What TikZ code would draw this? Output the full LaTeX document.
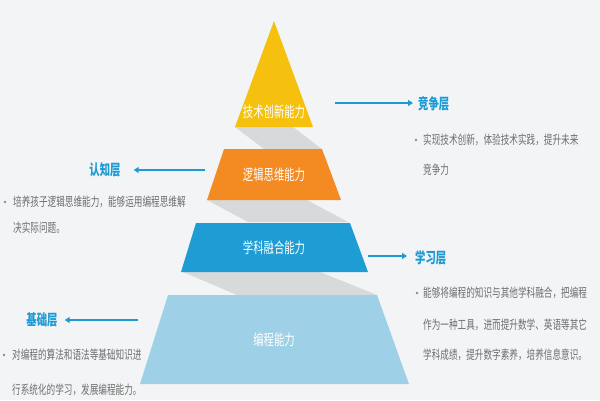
\documentclass[tikz,border=0pt]{standalone}
\usepackage{fontspec}
\usetikzlibrary{arrows.meta}
\newfontfamily\cjk[FakeStretch=0.69]{Noto Sans CJK SC}
\definecolor{bgc}{HTML}{F3F4F6}
\definecolor{yel}{HTML}{F5C10E}
\definecolor{ora}{HTML}{F48A22}
\definecolor{blu}{HTML}{1D9DD3}
\definecolor{lbl}{HTML}{9ED1E7}
\definecolor{shd}{HTML}{D8D9DB}
\definecolor{lab}{HTML}{1E9AD4}
\definecolor{bod}{HTML}{6E6E6E}
\tikzset{
  ptext/.style={text=white,font=\cjk\fontsize{15}{15}\selectfont,inner sep=0pt},
  ltext/.style={text=lab,font=\cjk\bfseries\fontsize{15}{15}\selectfont,inner sep=0pt},
  btext/.style={text=bod,font=\cjk\fontsize{12.5}{12.5}\selectfont,inner sep=0pt,anchor=west},
  conn/.style={draw=lab,line width=1.8pt,-{Triangle[length=5pt,width=6pt]}},
  dotc/.style={fill=bod!80}
}
\begin{document}
\begin{tikzpicture}[x=1pt,y=-1pt]
\fill[bgc] (0,0) rectangle (600,400);
\useasboundingbox (0,0) rectangle (600,400);
% shadows
\fill[shd] (235,127) -- (293,127) -- (322,149) -- (264,149) -- cycle;
\fill[shd] (207,200) -- (307,200) -- (348,222) -- (248,222) -- cycle;
\fill[shd] (183,272) -- (320,272) -- (377,295) -- (237,295) -- cycle;
% pyramid
\fill[yel] (274,21) -- (313,127) -- (235,127) -- cycle;
\fill[ora] (224,149) -- (322,149) -- (341,200) -- (207,200) -- cycle;
\fill[blu] (196,223) -- (350,223) -- (368,272) -- (181,272) -- cycle;
\fill[lbl] (168,295) -- (377,295) -- (409,384) -- (140,384) -- cycle;
\node[ptext] (p1) at (274,112) {技术创新能力};
\node[ptext] (p2) at (274,175) {逻辑思维能力};
\node[ptext] (p3) at (274,248) {学科融合能力};
\node[ptext] (p4) at (274,340) {编程能力};
% right top
\node[ltext,anchor=west] (l1) at (418,104) {竞争层};
\coordinate (a1) at (335,103);
\draw[conn] (a1) -- ([xshift=-5pt]l1.west |- a1);
\fill[dotc] (416,140) circle (1.3pt);
\node[btext] (t1a) at (423,140) {实现技术创新，体验技术实践，提升未来};
\node[btext] (t1b) at (423,170) {竞争力};
% left
\node[ltext] (l2) at (105,170) {认知层};
\coordinate (a2) at (205,170);
\draw[conn] (a2) -- ([xshift=13pt]l2.east |- a2);
\fill[dotc] (5,202) circle (1.3pt);
\node[btext] (t2a) at (13,202) {培养孩子逻辑思维能力，能够运用编程思维解};
\node[btext] (t2b) at (13,228) {决实际问题。};
% left bottom
\node[ltext] (l3) at (42,320) {基础层};
\coordinate (a3) at (138,320);
\draw[conn] (a3) -- ([xshift=7pt]l3.east |- a3);
\fill[dotc] (4,355) circle (1.3pt);
\node[btext] (t3a) at (12,355) {对编程的算法和语法等基础知识进};
\node[btext] (t3b) at (12,390) {行系统化的学习，发展编程能力。};
% right middle
\node[ltext,anchor=west] (l4) at (415,258) {学习层};
\coordinate (a4) at (368,256);
\draw[conn] (a4) -- ([xshift=-8pt]l4.west |- a4);
\fill[dotc] (417,293) circle (1.3pt);
\node[btext] (t4a) at (423,293) {能够将编程的知识与其他学科融合，把编程};
\node[btext] (t4b) at (423,325) {作为一种工具，进而提升数学、英语等其它};
\node[btext] (t4c) at (423,355) {学科成绩，提升数字素养，培养信息意识。};
\end{tikzpicture}
\end{document}
